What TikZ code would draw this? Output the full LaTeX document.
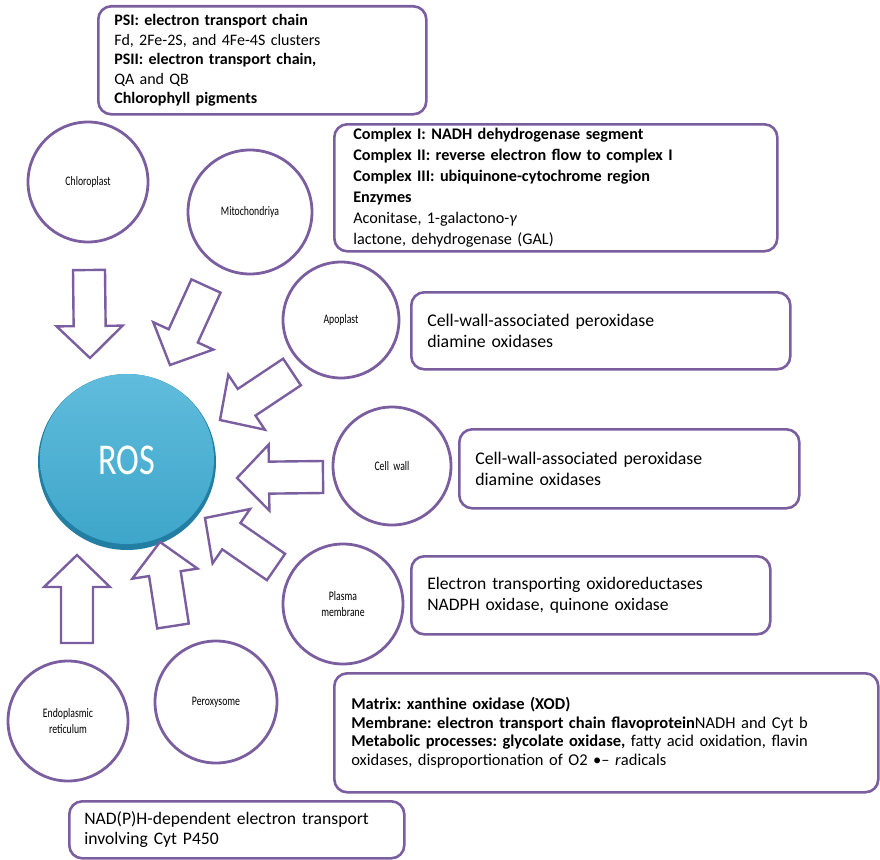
\documentclass[tikz,border=0pt]{standalone}
\usepackage{fontspec}
\setmainfont{Carlito}
\usetikzlibrary{calc}
\definecolor{mypurple}{RGB}{122,94,160}
\definecolor{myros}{RGB}{62,166,202}
\definecolor{myroslight}{RGB}{96,188,220}
\definecolor{myrosdark}{RGB}{34,126,162}

\tikzset{
  organelle/.style={circle, draw=mypurple, line width=2.8pt, fill=white,
    minimum size=#1, inner sep=0pt, align=center,
    font=\fontsize{13}{13}\selectfont},
  infobox/.style={draw=mypurple, line width=2.6pt, rounded corners=13pt,
    anchor=north west, align=left, inner xsep=16pt, inner ysep=0pt,
    font=\fontsize{16.5}{20}\selectfont},
  blockarrow/.style={draw=mypurple, line width=2.4pt, fill=white, line join=miter},
}

% block arrow from #1 (tail) to #2 (tip)
\newcommand{\blockarrow}[2]{%
  \coordinate (#1-b) at ($(#2)!32pt!(#1)$);
  \draw[blockarrow] ($(#1)!16pt!90:(#2)$) -- ($(#1-b)!16pt!90:(#2)$)
    -- ($(#1-b)!33pt!90:(#2)$) -- (#2) -- ($(#1-b)!33pt!-90:(#2)$)
    -- ($(#1-b)!16pt!-90:(#2)$) -- ($(#1)!16pt!-90:(#2)$) -- cycle;
}

\begin{document}
\frenchspacing
\begin{tikzpicture}[x=1pt, y=-1pt]
\useasboundingbox (0,0) rectangle (880,859);

% ROS
\fill[myrosdark] (127,462) ellipse (89 and 88);
\shade[top color=myroslight, bottom color=myros] (127,459) ellipse (87 and 85);
\node[text=white, font=\fontsize{44}{44}\selectfont] (ros) at (127,460) {\scalebox{0.78}[1]{ROS}};

% organelles
\node[organelle=120] (chl) at (88,182) {\scalebox{0.75}[1]{Chloroplast}};
\node[organelle=124] (mit) at (250,212) {\scalebox{0.75}[1]{Mitochondriya}};
\node[organelle=116] (apo) at (341,320) {\scalebox{0.75}[1]{Apoplast}};
\node[organelle=118] (cw) at (392,466) {\scalebox{0.75}[1]{Cell\ \ wall}};
\node[organelle=120] (pm) at (343,604) {\scalebox{0.75}[1]{Plasma}\\[3pt]\scalebox{0.75}[1]{membrane}};
\node[organelle=122] (per) at (216,702) {\scalebox{0.75}[1]{Peroxysome}};
\node[organelle=120] (er) at (68,721) {\scalebox{0.75}[1]{Endoplasmic}\\[3pt]\scalebox{0.75}[1]{reticulum}};

% arrows into ROS
\foreach \n/\tx/\ty/\hx/\hy in {chl/89/270/90/358, mit/206/286/170/365,
    apo/292/372/220/420, cw/323/477/237/478, pm/276/567/205/518,
    per/173/626/160/542, er/77/643/77/555}{
  \coordinate (\n-t) at (\tx,\ty);
  \coordinate (\n-h) at (\hx,\hy);
  \blockarrow{\n-t}{\n-h}
}

% sources
\node[infobox, text width=296pt, minimum height=108pt, font=\fontsize{16}{19.5}\selectfont]
  (chlbox) at (97,5) {\textbf{PSI: electron transport chain}\\
  Fd, 2Fe-2S, and 4Fe-4S clusters\\
  \textbf{PSII: electron transport chain,}\\
  QA and QB\\
  \textbf{Chlorophyll pigments}};

\node[infobox, inner xsep=19pt, text width=405pt, minimum height=127pt, font=\fontsize{16.2}{21}\selectfont]
  (mitbox) at (333,123) {\textbf{Complex I: NADH dehydrogenase segment}\\
  \textbf{Complex II: reverse electron flow to complex I}\\
  \textbf{Complex III: ubiquinone-cytochrome region}\\
  \textbf{Enzymes}\\
  Aconitase, 1-galactono-\textit{γ}\\
  lactone, dehydrogenase (GAL)};

\node[infobox, text width=347pt, minimum height=77pt, font=\fontsize{17.8}{21}\selectfont]
  (apobox) at (410,291) {Cell-wall-associated peroxidase\\diamine oxidases};

\node[infobox, text width=308pt, minimum height=79pt, font=\fontsize{17.8}{21}\selectfont]
  (cwbox) at (458,428) {Cell-wall-associated peroxidase\\diamine oxidases};

\node[infobox, text width=327pt, minimum height=78pt, font=\fontsize{17.6}{21}\selectfont]
  (pmbox) at (410,555) {Electron transporting oxidoreductases\\NADPH oxidase, quinone oxidase};

\node[infobox, inner xsep=17pt, text width=510pt, minimum height=119pt, font=\fontsize{16.5}{18.5}\selectfont]
  (perbox) at (333,672) {\textbf{Matrix: xanthine oxidase (XOD)}\\
  \textbf{Membrane: electron transport chain flavoprotein}NADH and Cyt b\\
  \textbf{Metabolic processes: glycolate oxidase,} fatty acid oxidation, flavin\\
  oxidases, disproportionation of O2 •– \textit{r}adicals};

\node[infobox, inner xsep=15pt, text width=305pt, minimum height=57pt, font=\fontsize{17.6}{20}\selectfont]
  (erbox) at (68,800) {NAD(P)H-dependent electron transport\\involving Cyt P450};

\end{tikzpicture}
\end{document}
